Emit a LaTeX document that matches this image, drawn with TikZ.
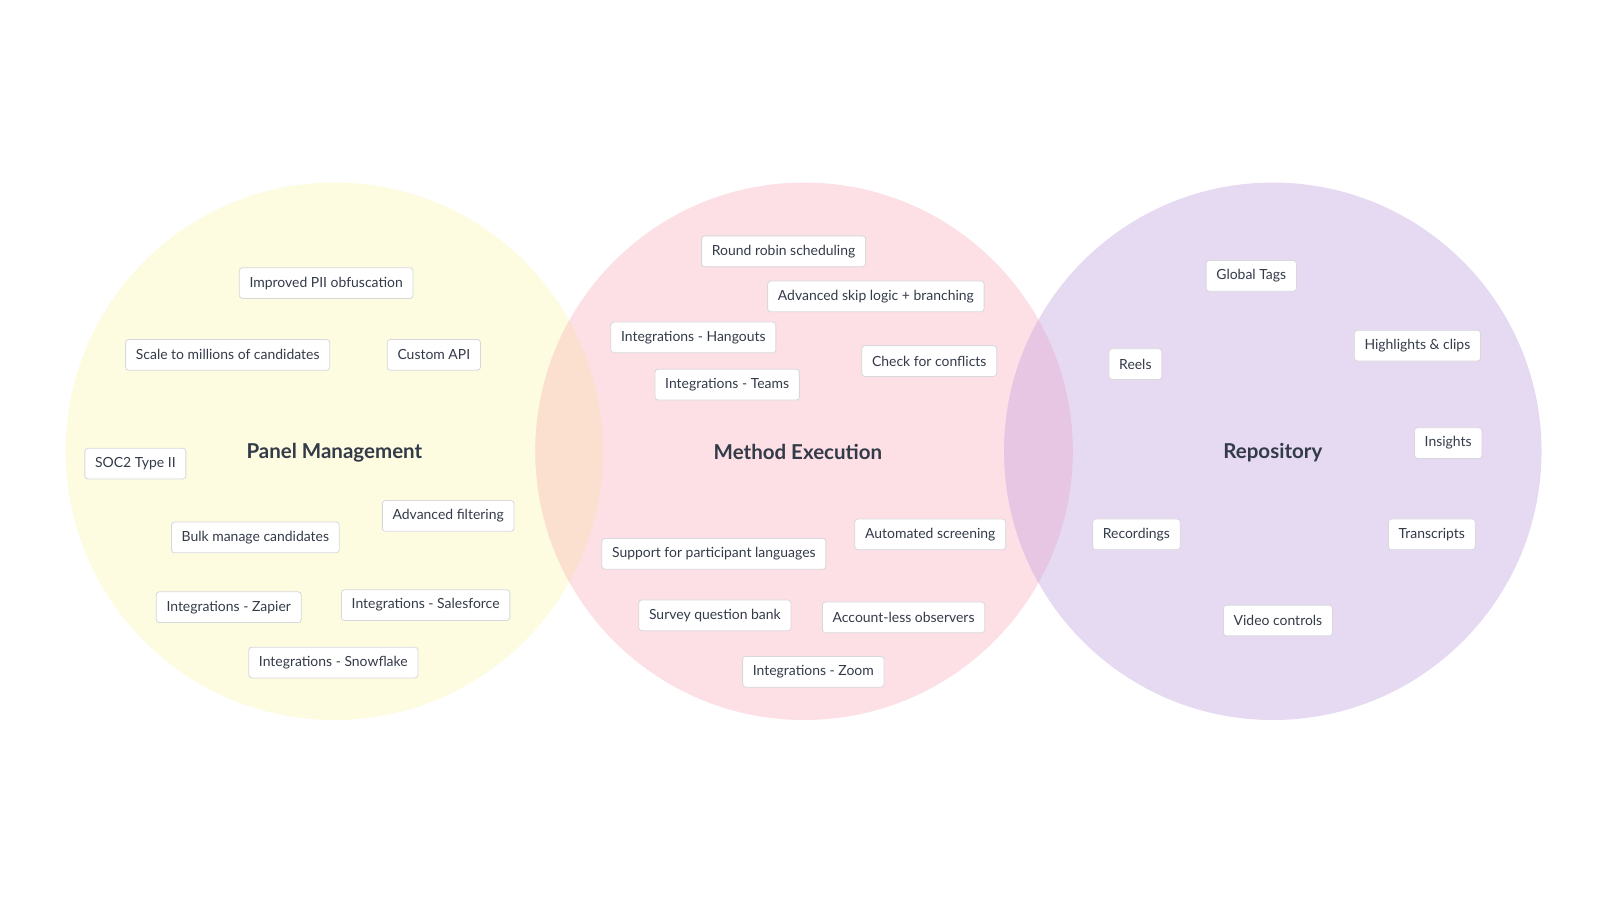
\documentclass[tikz,border=0pt]{standalone}
\usepackage{fontspec}
\setmainfont{Lato}
\definecolor{yellow4}{HTML}{FDFCE1}
\definecolor{pink4}{HTML}{FCE0E6}
\definecolor{purple4}{HTML}{E6DAF2}
\definecolor{peach4}{HTML}{FBE0D0}
\definecolor{mauve4}{HTML}{E6C6E2}
\definecolor{ink}{HTML}{333A48}
\definecolor{edge4}{HTML}{D8D8DC}
\begin{document}
\begin{tikzpicture}[x=0.5pt,y=-0.5pt,
				featnode/.style=	{draw=edge4, line width=0.4pt, fill=white, rounded corners=1.5pt, inner xsep=5pt, minimum height=15pt, font=\fontsize{6.8}{7}\selectfont, text=ink},
				titlenode/.style=	{font=\fontsize{10}{12}\selectfont\bfseries, text=ink}]
	\def\rad{262}
	\useasboundingbox (0,0) rectangle (1560,877.5);
	\fill[white] (0,0) rectangle (1560,877.5);

	% circles and overlaps
	\fill[yellow4] (326,440) circle (\rad);
	\fill[pink4] (784,440) circle (\rad);
	\fill[purple4] (1241,440) circle (\rad);
	\begin{scope}
		\clip (326,440) circle (\rad);
		\fill[peach4] (784,440) circle (\rad);
	\end{scope}
	\begin{scope}
		\clip (784,440) circle (\rad);
		\fill[mauve4] (1241,440) circle (\rad);
	\end{scope}

	% titles
	\node[titlenode] (TP) at (326,441) {Panel Management};
	\node[titlenode] (TM) at (778,441) {Method Execution};
	\node[titlenode] (TR) at (1241,441) {Repository};

	% panel management
	\node[featnode] (P1) at (318,276) {Improved PII obfuscation};
	\node[featnode] (P2) at (222,346) {Scale to millions of candidates};
	\node[featnode] (P3) at (423,346) {Custom API};
	\node[featnode] (P4) at (132,452) {SOC2 Type II};
	\node[featnode] (P5) at (437,503) {Advanced filtering};
	\node[featnode] (P6) at (249,524) {Bulk manage candidates};
	\node[featnode] (P7) at (223,592) {Integrations - Zapier};
	\node[featnode] (P8) at (415,590) {Integrations - Salesforce};
	\node[featnode] (P9) at (325,646) {Integrations - Snowflake};

	% method execution
	\node[featnode] (M1) at (764,245) {Round robin scheduling};
	\node[featnode] (M2) at (854,289) {Advanced skip logic + branching};
	\node[featnode] (M3) at (676,329) {Integrations - Hangouts};
	\node[featnode] (M4) at (906,352) {Check for conflicts};
	\node[featnode] (M5) at (709,375) {Integrations - Teams};
	\node[featnode] (M6) at (907,521) {Automated screening};
	\node[featnode] (M7) at (696,540) {Support for participant languages};
	\node[featnode] (M8) at (697,600) {Survey question bank};
	\node[featnode] (M9) at (881,602) {Account-less observers};
	\node[featnode] (M10) at (793,655) {Integrations - Zoom};

	% repository
	\node[featnode] (R1) at (1220,269) {Global Tags};
	\node[featnode] (R2) at (1382,337) {Highlights \& clips};
	\node[featnode] (R3) at (1107,355) {Reels};
	\node[featnode] (R4) at (1412,432) {Insights};
	\node[featnode] (R5) at (1108,521) {Recordings};
	\node[featnode] (R6) at (1396,521) {Transcripts};
	\node[featnode] (R7) at (1246,605) {Video controls};
\end{tikzpicture}
\end{document}
